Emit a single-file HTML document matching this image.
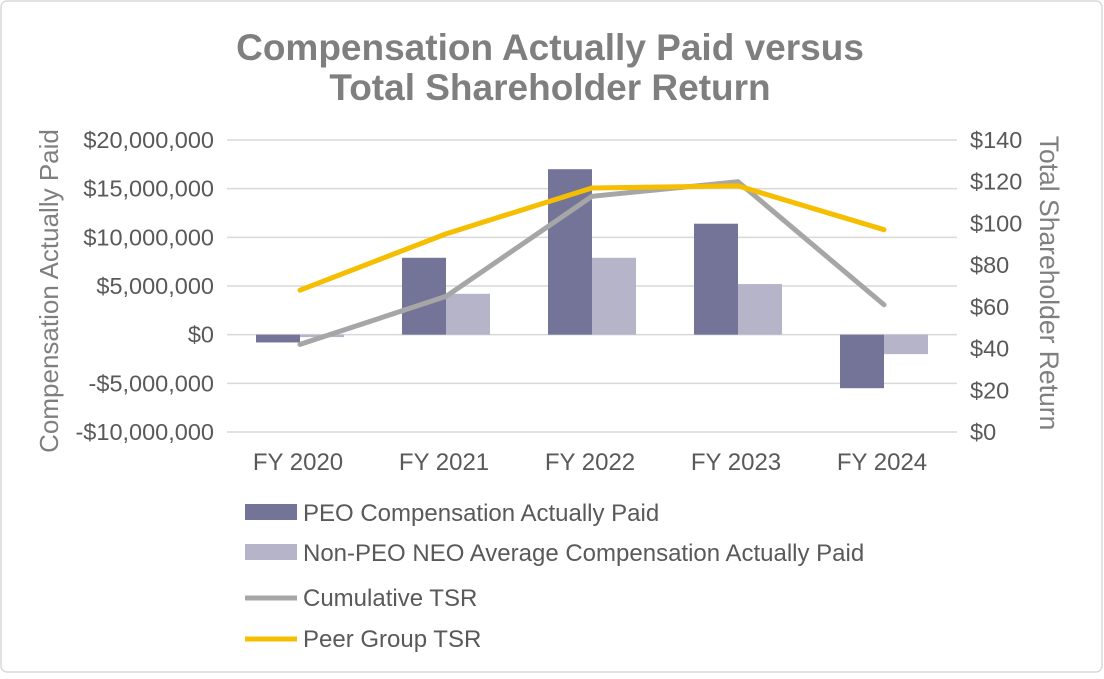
<!DOCTYPE html>
<html><head><meta charset="utf-8"><style>
body{margin:0;background:#fff;font-family:"Liberation Sans",Arial,sans-serif}
</style></head><body>
<svg width="1104" height="674" xmlns="http://www.w3.org/2000/svg" font-family="Liberation Sans, Arial, sans-serif">
<rect x="1" y="1" width="1101" height="671" rx="6" fill="#fff" stroke="#d9d9d9" stroke-width="1.5"/>
<text x="550" y="60" text-anchor="middle" font-size="37" font-weight="bold" fill="#7f7f7f">Compensation Actually Paid versus</text>
<text x="550" y="100" text-anchor="middle" font-size="37" font-weight="bold" fill="#7f7f7f">Total Shareholder Return</text>
<g id="grid"></g><g id="bars"></g><g id="lines"></g><g id="axes"></g>
<text transform="translate(58,291) rotate(-90)" text-anchor="middle" font-size="26" fill="#7f7f7f">Compensation Actually Paid</text>
<text transform="translate(1040,283) rotate(90)" text-anchor="middle" font-size="26.5" fill="#7f7f7f">Total Shareholder Return</text>
<g>
<rect x="245" y="504" width="52" height="16" fill="#747498"/>
<text x="303" y="521" font-size="24" fill="#595959">PEO Compensation Actually Paid</text>
<rect x="245" y="544" width="52" height="16" fill="#b5b4c9"/>
<text x="303" y="561" font-size="24" fill="#595959">Non-PEO NEO Average Compensation Actually Paid</text>
<line x1="245" y1="598" x2="297" y2="598" stroke="#a6a6a6" stroke-width="5"/>
<text x="303" y="606" font-size="24" fill="#595959">Cumulative TSR</text>
<line x1="245" y1="639" x2="297" y2="639" stroke="#f5be00" stroke-width="5"/>
<text x="303" y="647" font-size="24" fill="#595959">Peer Group TSR</text>
</g>
</svg>
<script>
const categories=["FY 2020","FY 2021","FY 2022","FY 2023","FY 2024"];
const peoCap=[-800000,7900000,17000000,11400000,-5500000];
const neoCap=[-250000,4200000,7900000,5200000,-2000000];
const cumulativeTsr=[42,65,113,120,61];
const peerTsr=[68,95,117,118,97];
const leftTicks=[-10000000,-5000000,0,5000000,10000000,15000000,20000000];
const leftTickLabels=["-$10,000,000","-$5,000,000","$0","$5,000,000","$10,000,000","$15,000,000","$20,000,000"];
const rightTicks=[0,20,40,60,80,100,120,140];
const rightTickLabels=["$0","$20","$40","$60","$80","$100","$120","$140"];
const NS="http://www.w3.org/2000/svg";
const L=227,R=957,T=140,B=432;
const yL=v=>B-(v+10000000)/30000000*(B-T);
const yR=v=>B-v/140*(B-T);
const band=(R-L)/categories.length;
const xC=i=>L+band*(i+0.5);
function mk(tag,attrs,parent){const e=document.createElementNS(NS,tag);for(const k in attrs)e.setAttribute(k,attrs[k]);document.getElementById(parent).appendChild(e);return e;}
leftTicks.forEach((v,i)=>{
 const g=mk('line',{x1:L,x2:R,y1:yL(v),y2:yL(v),stroke:'#d9d9d9','stroke-width':1.5},'grid');
 
 
 const t=mk('text',{x:214,y:yL(v)+8,'text-anchor':'end','font-size':23.5,fill:'#595959'},'axes');
 t.textContent=leftTickLabels[i];
 
 
});
rightTicks.forEach((v,i)=>{
 const t=mk('text',{x:970,y:yR(v)+8,'font-size':23.5,fill:'#595959'},'axes');
 t.textContent=rightTickLabels[i];
 
 
});
categories.forEach((c,i)=>{
 const t=mk('text',{x:xC(i)-2,y:470,'text-anchor':'middle','font-size':24,fill:'#595959'},'axes');
 t.textContent=c;
 
 
 const bw=44;
 [[peoCap,'#747498',-bw,'bar-peo'],[neoCap,'#b5b4c9',0,'bar-neo']].forEach(([arr,col,off,nm])=>{
  const y0=yL(0),y1=yL(arr[i]);
  const r=mk('rect',{x:xC(i)+off,y:Math.min(y0,y1),width:bw,height:Math.abs(y1-y0),fill:col},'bars');
  
  
 });
});
[[cumulativeTsr,'#a6a6a6','line-cumulative-tsr'],[peerTsr,'#f5be00','line-peer-tsr']].forEach(([arr,col,nm])=>{
 const p=mk('polyline',{points:arr.map((v,i)=>xC(i)+','+yR(v)).join(' '),fill:'none',stroke:col,'stroke-width':5,'stroke-linecap':'round','stroke-linejoin':'round'},'lines');
 
 
});
</script>
</body></html>
